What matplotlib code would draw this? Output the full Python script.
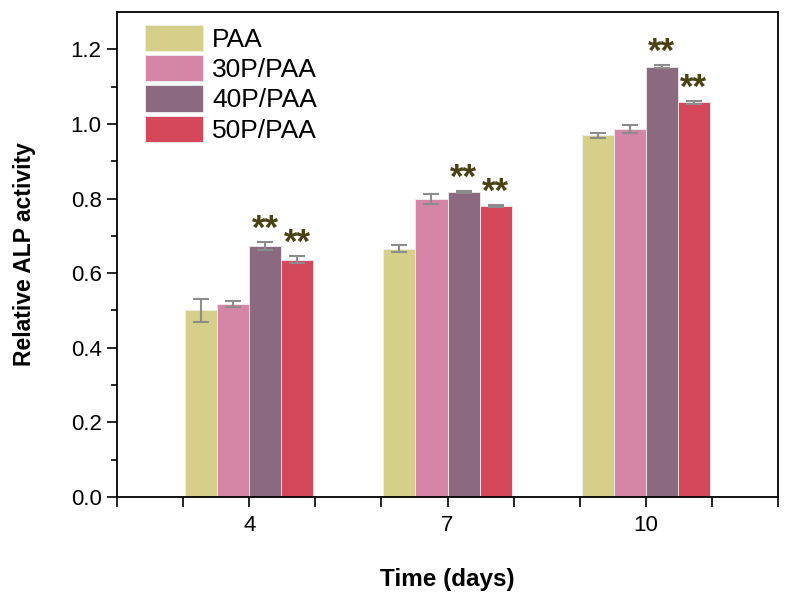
import matplotlib.pyplot as plt
import numpy as np

plt.rcParams['font.family'] = ['Liberation Sans', 'DejaVu Sans']

days = [4, 7, 10]
groups = ['PAA', '30P/PAA', '40P/PAA', '50P/PAA']
values = [
    [0.500, 0.666, 0.970],   # PAA
    [0.517, 0.799, 0.987],   # 30P/PAA
    [0.673, 0.818, 1.154],   # 40P/PAA
    [0.636, 0.780, 1.058],   # 50P/PAA
]
errors = [
    [0.030, 0.010, 0.007],
    [0.009, 0.013, 0.011],
    [0.010, 0.003, 0.003],
    [0.010, 0.003, 0.004],
]
# significance marks (group index -> list of day indices)
stars = {2: [0, 1, 2], 3: [0, 1, 2]}
colors = ['#d5cf8a', '#d585a5', '#8b6a80', '#d5485c']

fig = plt.figure(figsize=(7.87, 6.03), dpi=100)
ax = fig.add_axes([0.1487, 0.1758, 0.8399, 0.8042])

x = np.array(days, dtype=float)
w = 0.485
offs = [-1.5 * w, -0.5 * w, 0.5 * w, 1.5 * w]
for i, g in enumerate(groups):
    ax.bar(x + offs[i], values[i], w, color=colors[i], edgecolor='#eeeeee',
           linewidth=0.6, label=g, zorder=2)
    ax.errorbar(x + offs[i], values[i], yerr=errors[i], fmt='none',
                ecolor='#8c8c8c', elinewidth=1.5, capsize=6, capthick=1.5, zorder=3)
    if i in stars:
        for j in stars[i]:
            ax.text(x[j] + offs[i], values[i][j] + errors[i][j] - 0.01, '**',
                    ha='center', va='bottom', fontsize=25, color='#4a4214',
                    fontweight='bold')

ax.set_xlim(2, 12)
ax.set_ylim(0, 1.3)
ax.set_xticks(range(2, 13))
ax.set_xticklabels([str(t) if t in days else '' for t in range(2, 13)])
ax.set_yticks(np.arange(0, 1.21, 0.2))
ax.set_yticklabels(['%.1f' % v for v in np.arange(0, 1.21, 0.2)])
ax.set_yticks(np.arange(0.1, 1.3, 0.2), minor=True)
ax.tick_params(axis='both', which='major', direction='out', length=7, width=1.2,
               labelsize=16)
ax.tick_params(axis='x', pad=6)
ax.tick_params(axis='y', pad=4)
ax.tick_params(axis='y', which='minor', direction='out', length=4, width=1.2)
for s in ax.spines.values():
    s.set_linewidth(1.3)

ax.set_xlabel('Time (days)', fontsize=17.5, fontweight='bold', labelpad=23)
ax.set_ylabel('Relative ALP activity', fontsize=16.5, fontweight='bold', labelpad=25)

ax.legend(loc='upper left', bbox_to_anchor=(28 / 661, 1 - 13 / 485), frameon=False,
          fontsize=19, handlelength=2.2, handleheight=1.15, labelspacing=0.12,
          handletextpad=0.35, borderpad=0, borderaxespad=0)

fig.savefig('out.png', dpi=100)
